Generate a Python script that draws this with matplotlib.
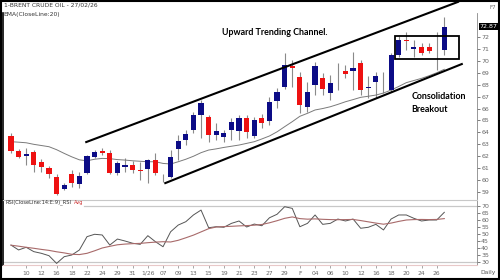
import matplotlib
matplotlib.use("Agg")
import matplotlib.pyplot as plt
from matplotlib.patches import Rectangle
from matplotlib.transforms import blended_transform_factory

# daily candles, body top / body bottom / high / low, 'B' up (blue) or 'R' down (red)
colors = ['R','R','B','R','R','R','R','B','R','B','B','B','R','R','B','B','R','R','B','R',
          'R','B','B','B','B','B','R','B','B','B','B','R','B','R','B','B','B','R','R','B',
          'B','R','B','R','R','B','R','B','B','B','B','B','R','B','R','R','R','B']
body_top = [63.69,62.46,62.16,62.38,61.54,60.98,60.28,59.58,60.55,60.37,62.00,62.35,62.46,62.29,61.46,61.26,61.26,60.84,61.68,61.68,
            60.05,61.90,63.30,63.86,65.46,66.49,65.32,64.14,63.92,64.90,65.23,65.18,65.04,65.23,66.58,67.41,69.65,69.57,68.67,67.41,
            69.57,68.58,68.17,69.25,69.15,69.42,69.79,67.83,68.76,67.58,70.49,71.75,71.72,71.19,71.19,71.13,71.02,72.87]
body_bot = [62.46,61.96,62.04,61.26,61.07,60.50,58.83,59.22,59.78,59.67,60.62,61.96,62.29,60.62,60.57,61.10,60.84,60.76,60.95,60.62,
            59.98,60.28,62.58,63.36,64.20,65.46,63.78,63.78,63.64,64.20,64.14,64.06,63.70,64.81,64.98,66.66,67.78,69.40,66.30,66.15,
            67.97,67.60,67.28,69.20,68.90,69.17,67.55,67.70,68.25,67.52,67.55,70.49,71.68,70.97,70.68,70.85,70.96,70.90]
highs = [63.97,62.58,62.66,62.52,61.74,61.18,60.55,59.73,60.84,60.70,62.10,62.52,62.66,62.52,61.62,61.82,61.62,61.54,61.74,62.24,
         60.55,62.52,63.78,64.20,65.73,66.70,65.46,64.76,64.20,65.18,65.46,65.46,65.32,65.54,66.99,67.70,70.63,70.07,69.09,68.25,
         69.93,68.95,68.80,69.79,69.65,70.77,70.07,68.76,69.10,69.09,70.63,72.08,72.45,71.75,71.47,71.47,72.45,73.70]
lows = [62.27,61.82,61.26,60.70,60.70,60.15,58.75,59.17,59.44,59.30,60.50,61.82,62.10,60.50,60.42,60.70,60.60,60.00,59.73,60.42,
        59.86,60.15,61.68,62.94,63.92,63.50,63.22,63.36,63.22,63.36,63.36,63.50,63.50,64.34,64.62,66.02,67.60,67.83,65.60,65.73,
        67.13,67.13,66.70,67.55,68.53,67.55,67.13,66.90,66.90,67.28,67.41,70.35,70.90,70.35,70.49,70.63,69.23,70.49]
ema20 = [63.22,63.18,63.13,63.00,62.90,62.80,62.55,62.24,61.95,61.70,61.62,61.75,61.82,61.80,61.72,61.68,61.62,61.58,61.54,61.54,
         61.40,61.35,61.54,61.75,62.00,62.30,62.52,62.62,62.74,62.84,62.94,63.08,63.22,63.45,63.70,64.05,64.48,64.90,65.35,65.60,
         65.88,66.00,66.15,66.35,66.57,66.75,66.94,67.03,67.13,67.30,67.55,67.85,68.17,68.35,68.53,68.75,69.00,69.29]
rsi = [42.1,38.6,40.5,37.4,36.2,34.5,29.0,33.8,35.0,38.6,48.1,49.8,49.3,42.1,46.4,45.0,43.4,42.6,48.8,44.5,
       40.9,51.6,56.4,58.8,63.6,67.1,54.5,55.2,54.8,57.6,59.3,55.0,57.1,55.9,61.6,64.1,69.5,68.3,55.2,57.6,
       63.6,56.9,57.6,60.7,59.3,60.7,54.1,54.8,56.9,52.9,60.7,63.6,63.6,61.2,59.3,60.0,60.0,65.5]
rsi_avg = [42.0,41.3,40.5,39.8,39.0,38.3,37.3,36.5,35.5,35.3,36.2,38.0,40.0,41.2,42.3,42.8,43.1,43.3,43.8,44.2,
           44.5,44.3,45.5,47.3,49.2,51.5,53.8,55.0,55.3,55.5,55.8,56.0,56.3,56.8,58.0,59.5,61.2,62.2,61.0,60.6,
           60.8,60.5,60.3,60.2,60.3,60.4,59.6,58.7,57.8,57.0,57.8,59.0,60.0,60.3,60.4,60.3,60.4,61.0]
date_labels = ['10','12','16','18','22','24','29','31','1/26','07','09','13','15','19','21','23','27','29','F',
               '04','06','10','12','16','18','20','24','26']
price_ticks = list(range(59, 73))
rsi_ticks = [30, 35, 40, 45, 50, 55, 60, 65, 70]
last_close = 72.87

# annotation anchors (candle index, price)
upper_line = [(9.9, 63.19), (58.8, 74.94)]
lower_line = [(20.3, 59.75), (59.3, 69.73)]
box = (50.5, 70.13, 8.4, 1.95)

blue = '#0c0c86'
red = '#ee1111'
wick = '#8a8a8a'
tick_c = '#666666'

fig = plt.figure(figsize=(5, 2.8), dpi=100)
ax = fig.add_axes([0.006, 0.289, 0.948, 0.6646])
ax2 = fig.add_axes([0.006, 0.0536, 0.948, 0.2321])

n = len(colors)
for i in range(n):
    c = blue if colors[i] == 'B' else red
    ax.vlines(i, lows[i], highs[i], color=wick, lw=0.8, zorder=2)
    h = max(body_top[i] - body_bot[i], 0.07)
    ax.add_patch(Rectangle((i - 0.34, body_bot[i]), 0.68, h, facecolor=c, edgecolor='none', zorder=3))

ax.plot(range(n), ema20, color='#7a7a7a', lw=0.7, zorder=2)

ax.plot([p[0] for p in upper_line], [p[1] for p in upper_line], color='black', lw=1.5, clip_on=False, zorder=4)
ax.plot([p[0] for p in lower_line], [p[1] for p in lower_line], color='black', lw=1.5, clip_on=False, zorder=4)
ax.add_patch(Rectangle((box[0], box[1]), box[2], box[3], facecolor='none', edgecolor='black', lw=1.3, zorder=4))

ax.text(34.7, 72.34, 'Upward Trending Channel.', fontsize=6.4, fontweight='bold', family='Lato',
        ha='center', va='center')
ax.text(52.7, 67.05, 'Consolidation', fontsize=6.4, fontweight='bold', family='Lato', ha='left', va='center')
ax.text(52.7, 65.9, 'Breakout', fontsize=6.4, fontweight='bold', family='Lato', ha='left', va='center')

ax.set_xlim(-1.05, 61.3)
ax.set_ylim(58.41, 74.01)
ax.yaxis.tick_right()
ax.set_yticks(price_ticks)
ax.set_yticklabels([str(t) for t in price_ticks])
ax.tick_params(axis='y', length=2, width=0.6, colors=tick_c, labelsize=4.5, pad=1)
ax.set_xticks([])
for s in ['top', 'bottom']:
    ax.spines[s].set_visible(False)
ax.spines['left'].set_color('black')
ax.spines['left'].set_linewidth(1.2)
ax.spines['right'].set_color('#888888')
ax.spines['right'].set_linewidth(0.6)

tr = blended_transform_factory(ax.transAxes, ax.transData)
ax.text(1.006, last_close, '%.2f' % last_close, transform=tr, fontsize=4.5, color='white', va='center', ha='left',
        bbox=dict(facecolor='black', edgecolor='none', pad=0.6))

fig.text(0.007, 0.982, '1-BRENT CRUDE OIL - 27/02/26', fontsize=4.3, color='#333333', va='center')
fig.text(0.007, 0.947, 'EMA(CloseLine:20)', fontsize=4.3, color='#333333', va='center')
fig.text(0.979, 0.972, 'F7', fontsize=4, color='#666666', va='center')

# RSI panel
ax2.axhline(70, color='#c8c8c8', lw=0.9, xmin=0.17)
ax2.axhline(30, color='#c8c8c8', lw=0.9)
ax2.plot(range(n), rsi, color='#555555', lw=0.7)
ax2.plot(range(n), rsi_avg, color='#a86a6a', lw=0.8)
ax2.set_xlim(-1.05, 61.3)
ax2.set_ylim(27.86, 74.29)
ax2.yaxis.tick_right()
ax2.set_yticks(rsi_ticks)
ax2.set_yticklabels([str(t) for t in rsi_ticks])
ax2.tick_params(axis='y', length=2, width=0.6, colors=tick_c, labelsize=4.5, pad=1)
ax2.set_xticks(range(2, 2 + 2 * len(date_labels), 2))
ax2.set_xticklabels(date_labels)
ax2.tick_params(axis='x', length=2, width=0.6, colors='#999999', labelcolor=tick_c, labelsize=4.3, pad=2)
ax2.spines['top'].set_color('#c8c8c8')
ax2.spines['bottom'].set_color('#e8c8c8')
ax2.spines['left'].set_color('black')
ax2.spines['left'].set_linewidth(1.2)
ax2.spines['right'].set_color('#888888')
ax2.spines['right'].set_linewidth(0.6)
rsi_lbl = ax2.text(-0.7, 72.6, 'RSI(CloseLine:14:E:9)_RSI', fontsize=3.7, color='#333333', va='center')
ax2.annotate('Avg', xy=(1, 0.5), xycoords=rsi_lbl, xytext=(1.5, 0), textcoords='offset points',
             fontsize=3.7, color='#cc3333', va='center')
fig.text(0.976, 0.028, 'Daily', fontsize=4.3, color='#555555', ha='center', va='center')

fig.patches.append(Rectangle((0.002, 0.002), 0.996, 0.996, transform=fig.transFigure, fill=False,
                             edgecolor='black', lw=1.5))

fig.savefig('out.png', dpi=100)
